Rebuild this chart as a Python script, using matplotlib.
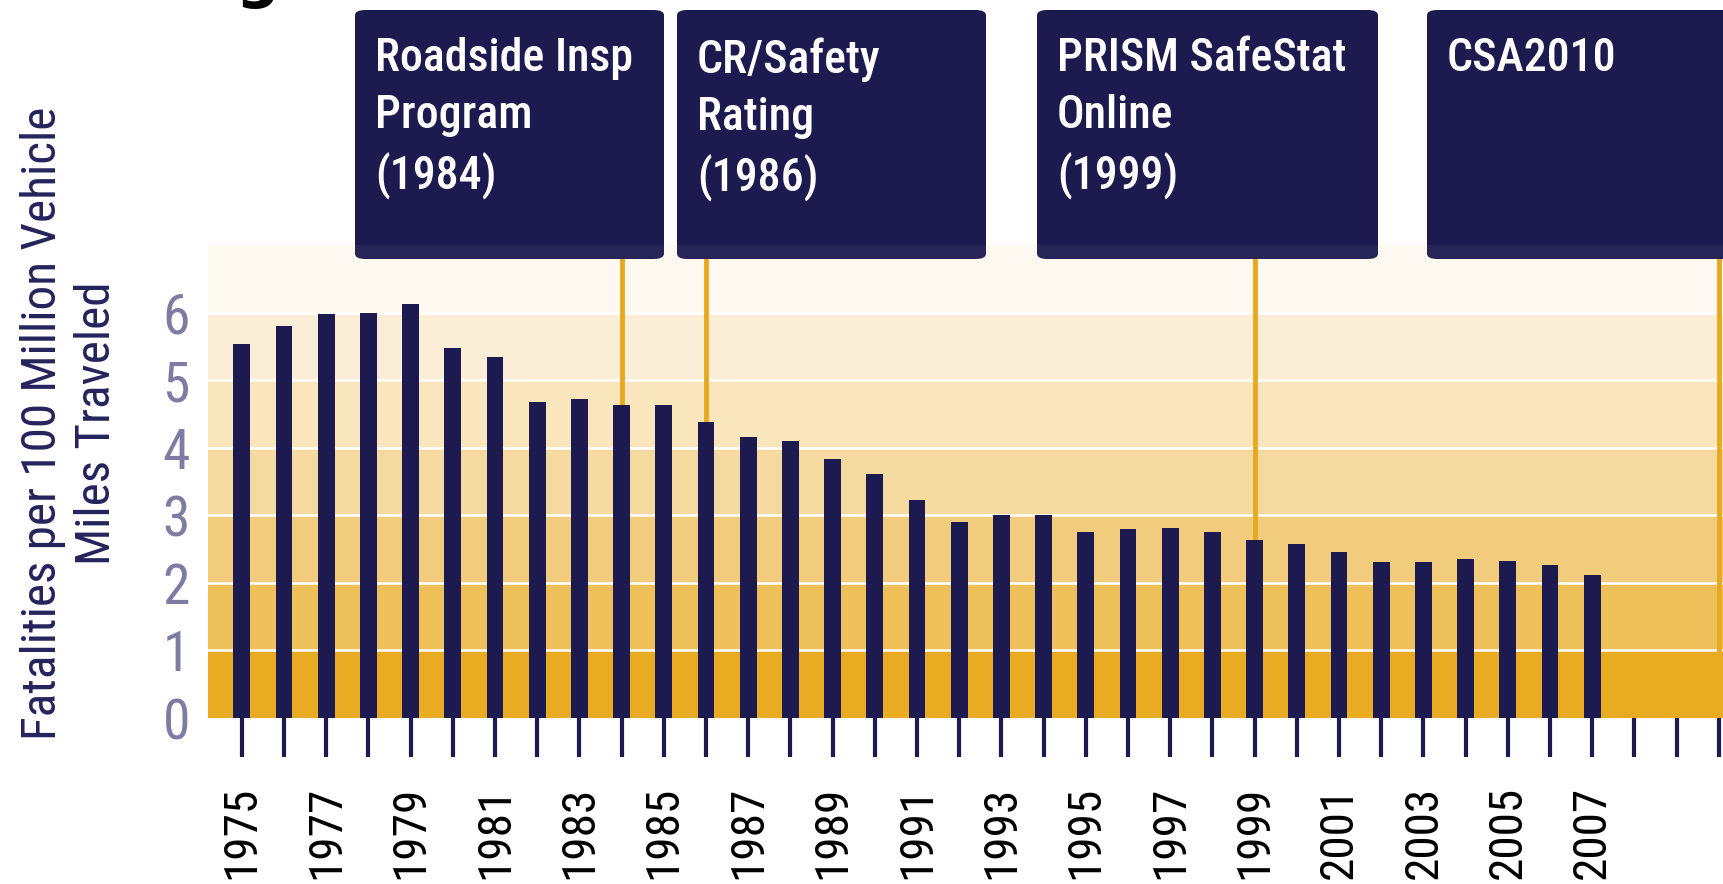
import os
import matplotlib
matplotlib.use("Agg")
import matplotlib.pyplot as plt
from matplotlib import font_manager as fm
from matplotlib.patches import FancyBboxPatch, Rectangle

# fatalities per 100 million vehicle miles traveled
years = list(range(1975, 2008))
rates = [5.53, 5.80, 5.98, 6.00, 6.13, 5.48, 5.34, 4.67, 4.72, 4.63,
         4.63, 4.38, 4.16, 4.10, 3.83, 3.61, 3.23, 2.90, 3.01, 3.01,
         2.76, 2.80, 2.81, 2.75, 2.64, 2.57, 2.46, 2.31, 2.31, 2.35,
         2.33, 2.27, 2.12]
extra_years = [2008, 2009, 2010]
yticks = [0, 1, 2, 3, 4, 5, 6]

event_labels = ["Roadside Insp\nProgram\n(1984)", "CR/Safety\nRating\n(1986)",
                "PRISM SafeStat\nOnline\n(1999)", "CSA2010"]
event_years = [1984, 1986, 1999, 2010]

NAVY = "#1c1a4f"
GOLD = "#e8a920"
band_colors = ["#e8ab22", "#eec05a", "#f1cc7c", "#f5daa0", "#f9e6bd", "#fbeed6", "#fdf8f0"]


def narrow_font(weights):
    # look for any condensed / narrow sans that happens to be installed
    ents = [f for f in fm.fontManager.ttflist if f.style == "normal"]
    for w in weights:
        for p in ["Roboto", "Noto Sans", "Open Sans", "DejaVu Sans", "Liberation Sans"]:
            for f in ents:
                if not f.name.startswith(p) or f.weight != w:
                    continue
                base = os.path.basename(f.fname)
                if f.stretch in ("condensed", "semi-condensed") or "Condensed" in base or "Narrow" in base:
                    return f.fname
    return None


REG = narrow_font([400, "normal"])
MED = narrow_font([500, "medium"]) or REG


def font(size, fname=REG):
    if fname:
        return fm.FontProperties(fname=fname, size=size)
    return fm.FontProperties(family="DejaVu Sans", size=size * 0.8)


W, H = 1723, 884
fig = plt.figure(figsize=(W / 100, H / 100), dpi=100)
ax = fig.add_axes([208 / W, 1 - 718 / H, 1 - 208 / W, (718 - 245) / H])

for i, c in enumerate(band_colors):
    ax.axhspan(i, i + 1, color=c, lw=0, zorder=0)
for i in range(1, 7):
    ax.axhline(i, color="white", lw=1.8, zorder=1)

ax.bar(years, rates, width=0.4, color=NAVY, zorder=3)

ax.set_xlim(1974.2, 2010.1)
ax.set_ylim(0, 7)
for s in ax.spines.values():
    s.set_visible(False)

all_years = years + extra_years
ax.set_xticks(all_years)
ax.set_xticklabels([str(y) if (y - 1975) % 2 == 0 and y <= 2007 else "" for y in all_years],
                   rotation=90, fontproperties=font(34), color="black", va="top")
ax.tick_params(axis="x", length=28, width=3, color=NAVY, pad=21)
for t, y in zip(ax.xaxis.get_major_ticks(), all_years):
    if y > 2007:
        t.tick1line.set_color("#c5c3d9")

ax.set_yticks(yticks)
ax.set_yticklabels([str(v) for v in yticks], fontproperties=font(40), color="#7f7ca4")
ax.tick_params(axis="y", length=0, pad=13)

fig.text(70 / W, 1 - 423 / H, "Fatalities per 100 Million Vehicle\nMiles Traveled",
         rotation=90, ha="center", va="center", fontproperties=font(35.5),
         color="#25235c", linespacing=1.2)

# event boxes and leader lines
box_left = [355, 677, 1037, 1427]
box_right = [664, 986, 1378, 1760]
for lab, yr, x0, x1 in zip(event_labels, event_years, box_left, box_right):
    box = FancyBboxPatch((x0 / W, 1 - 259 / H), (x1 - x0) / W, (259 - 10) / H,
                         boxstyle="round,pad=0,rounding_size=0.006",
                         transform=fig.transFigure, facecolor=NAVY, edgecolor="none",
                         zorder=5)
    fig.patches.append(box)
    # the strip of the box that hangs over the plot area is a touch lighter
    strip = Rectangle((x0 / W, 1 - 259 / H), (x1 - x0) / W, 14 / H,
                      transform=fig.transFigure, facecolor="white", alpha=0.05,
                      edgecolor="none", zorder=5.5)
    strip.set_clip_path(box)
    fig.patches.append(strip)
    fig.text((x0 + 20) / W, 1 - 37 / H, lab, ha="left", va="top", fontproperties=font(33, MED),
             color="white", linespacing=1.42, zorder=6)
    bottom = rates[years.index(yr)] if yr in years else 1
    ax.plot([yr, yr], [bottom, 7.3], color=GOLD, lw=3.5, zorder=2, clip_on=False)

# descender of the clipped title above
fig.text(257 / W, 1 + 4 / H, "g", ha="center", va="baseline", fontsize=44,
         fontweight="bold", color="black")

fig.savefig("out.png", dpi=100)
